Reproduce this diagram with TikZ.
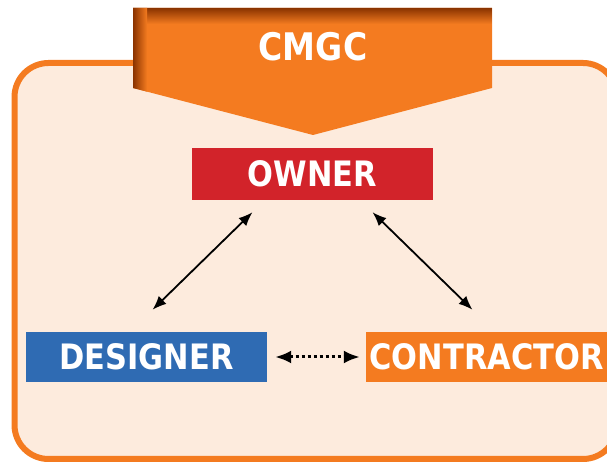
\documentclass[tikz,border=0pt]{standalone}
\usepackage{fontspec}
\usepackage{tikz}
\usetikzlibrary{arrows.meta}
\newfontfamily\roleFont{DejaVu Sans}[FakeStretch=0.87]
\definecolor{frameColor}{HTML}{F47B20}
\definecolor{paperColor}{HTML}{FDEBDD}
\definecolor{ownerColor}{HTML}{D2232A}
\definecolor{designerColor}{HTML}{2F6BB3}
\definecolor{bannerDark}{HTML}{8A3300}

\begin{document}
\begin{tikzpicture}[x=1pt,y=1pt]

          \tikzstyle{roleNode} = [inner sep=0pt, text=white, font=\roleFont\bfseries\fontsize{35}{40}\selectfont];
          \tikzstyle{ownerNode} = [roleNode, fill=ownerColor, minimum width=241pt, minimum height=52pt];
          \tikzstyle{designerNode} = [roleNode, fill=designerColor, minimum width=241pt, minimum height=50pt];
          \tikzstyle{contractorNode} = [roleNode, fill=frameColor, minimum width=241pt, minimum height=50pt];

          \tikzstyle{normalEdge} = [line width=1.8pt, {Latex[length=14pt,width=11pt]}-{Latex[length=14pt,width=11pt]}];
          \tikzstyle{dottedEdge} = [line width=3pt, dash pattern=on 3pt off 3pt, {Latex[length=16pt,width=13pt]}-{Latex[length=16pt,width=13pt]}];

          \useasboundingbox (0,0) rectangle (607,462);

          % frame and banner
          \draw[frameColor, fill=paperColor, line width=6pt, rounded corners=34pt] (14.5,3) rectangle (617,399);
          \fill[frameColor] (133,454) -- (492,454) -- (492,374) -- (313,327) -- (133,374) -- cycle;
          \begin{scope}
            \clip (133,454) -- (492,454) -- (492,374) -- (313,327) -- (133,374) -- cycle;
            \shade[top color=bannerDark, bottom color=frameColor] (133,454) rectangle (492,438);
            \shade[left color=bannerDark, right color=frameColor] (133,454) rectangle (147,370);
          \end{scope}
          \node[roleNode, font=\roleFont\bfseries\fontsize{38}{44}\selectfont] (cmgc) at (313,415) {CMGC};

          \node[ownerNode] (owner) at (312.5,288) {OWNER};
          \node[designerNode] (designer) at (146.5,105) {DESIGNER};
          \node[contractorNode] (contractor) at (486.5,105) {CONTRACTOR};

          \draw[normalEdge] ([xshift=-60pt,yshift=-12pt]owner.south) -- ([xshift=6pt,yshift=22pt]designer.north);
          \draw[normalEdge] ([xshift=60pt,yshift=-12pt]owner.south) -- ([xshift=-14pt,yshift=22pt]contractor.north);
          \draw[dottedEdge] ([xshift=8pt]designer.east) -- ([xshift=-6pt]contractor.west);
        \end{tikzpicture}
\end{document}
